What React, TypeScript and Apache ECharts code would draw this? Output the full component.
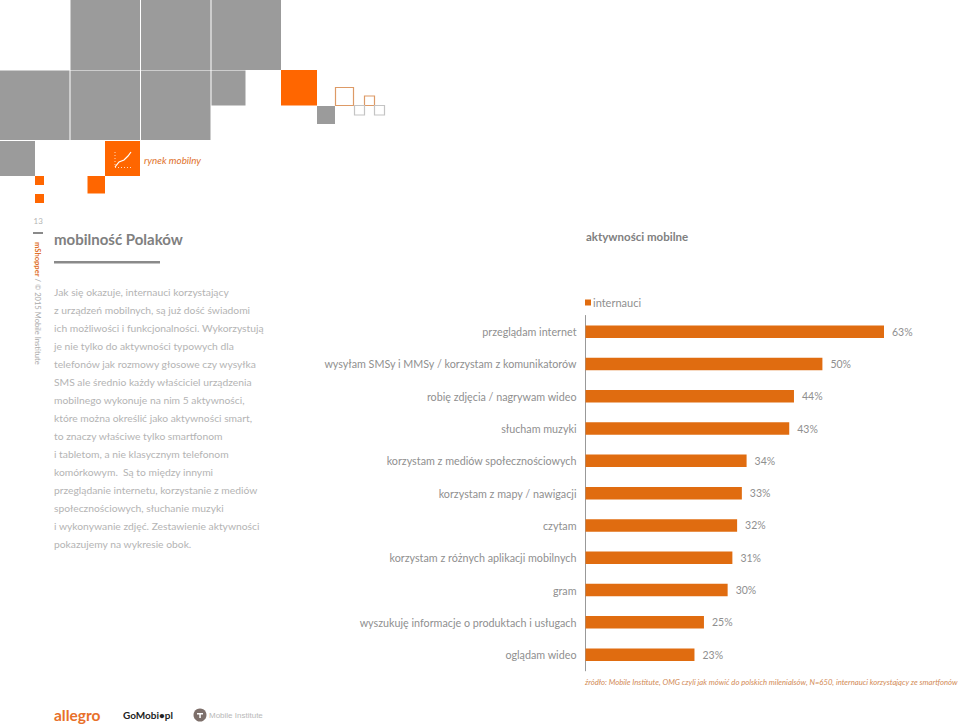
import React, { useEffect, useRef } from "react";
import * as echarts from "echarts";

const categories = [
  "przeglądam internet",
  "wysyłam SMSy i MMSy / korzystam z komunikatorów",
  "robię zdjęcia / nagrywam wideo",
  "słucham muzyki",
  "korzystam z mediów społecznościowych",
  "korzystam z mapy / nawigacji",
  "czytam",
  "korzystam z różnych aplikacji mobilnych",
  "gram",
  "wyszukuję informacje o produktach i usługach",
  "oglądam wideo",
];
const values = [63, 50, 44, 43, 34, 33, 32, 31, 30, 25, 23];
const seriesName = "internauci";
const bodyLines = [
  "Jak się okazuje, internauci korzystający",
  "z urządzeń mobilnych, są już dość świadomi",
  "ich możliwości i funkcjonalności. Wykorzystują",
  "je nie tylko do aktywności typowych dla",
  "telefonów jak rozmowy głosowe czy wysyłka",
  "SMS ale średnio każdy właściciel urządzenia",
  "mobilnego wykonuje na nim 5 aktywności,",
  "które można określić jako aktywności smart,",
  "to znaczy właściwe tylko smartfonom",
  "i tabletom, a nie klasycznym telefonom",
  "komórkowym.  Są to między innymi",
  "przeglądanie internetu, korzystanie z mediów",
  "społecznościowych, słuchanie muzyki",
  "i wykonywanie zdjęć. Zestawienie aktywności",
  "pokazujemy na wykresie obok.",
];
const sourceText =
  "źródło: Mobile Institute, OMG czyli jak mówić do polskich milenialsów, N=650, internauci korzystający ze smartfonów";

const FONT = "Lato";
const GRAY = "#9b9b9b";
const ORANGE = "#ff6600";
const BAR = "#e06c10";
const TEXT = "#8f8f8f";
const LIGHT = "#b4b4b4";

const grayRects = [
  [70.5, 0, 69.5, 70], [141, 0, 69.5, 70], [211.5, 0, 69.5, 70],
  [0, 70.5, 69.5, 69.5], [70.5, 70.5, 69.5, 69.5], [141, 70.5, 69.5, 69.5],
  [211.5, 70.5, 34, 35], [0, 141, 35, 35], [317, 106, 18, 18],
];
const orangeRects = [
  [281, 70, 36, 35.5], [105, 141, 35, 35], [87.5, 176, 17.5, 17.5],
  [35, 176, 9, 9], [35, 194, 9, 9],
];
const outlineRects = [
  [335.5, 87.5, 18, 18, "#dd9a66"], [364.5, 96, 10, 9.5, "#dd9a66"],
  [354.5, 105.5, 10, 9.5, "#c4c4c4"], [374.5, 105.5, 10, 9.5, "#c4c4c4"],
];

const text = (x: number, y: number, t: string, style: any, extra: any = {}) => ({
  type: "text",
  x,
  y,
  silent: true,
  style: { text: t, fontFamily: FONT, verticalAlign: "middle", ...style },
  ...extra,
});

export default function App() {
  const ref = useRef<HTMLDivElement>(null);
  useEffect(() => {
    const chart = echarts.init(ref.current!, undefined, { renderer: "svg" });
    const graphics: any[] = [
      ...grayRects.map(([x, y, width, height]) => ({ type: "rect", shape: { x, y, width, height }, style: { fill: GRAY } })),
      ...orangeRects.map(([x, y, width, height]) => ({ type: "rect", shape: { x, y, width, height }, style: { fill: ORANGE } })),
      ...outlineRects.map(([x, y, width, height, c]: any) => ({
        type: "rect", shape: { x, y, width, height }, style: { fill: "none", stroke: c, lineWidth: 1.2 },
      })),
      { type: "polyline", shape: { points: [[115, 167], [119, 162], [124, 160], [128, 156], [131, 152]] }, style: { fill: "none", stroke: "#fff", lineWidth: 1.2 } },
      { type: "line", shape: { x1: 115, y1: 152, x2: 115, y2: 167 }, style: { stroke: "#ffd9bf", lineWidth: 1, lineDash: [1, 2] } },
      { type: "line", shape: { x1: 115, y1: 167.5, x2: 131, y2: 167.5 }, style: { stroke: "#ffd9bf", lineWidth: 1, lineDash: [1, 2] } },
      text(144, 160, "rynek mobilny", { fontSize: 9.8, fontStyle: "italic", fill: "#e0702a" }),
      text(33.5, 221, "13", { fontSize: 8, fill: "#b4b4b4" }),
      { type: "rect", shape: { x: 33, y: 232, width: 10, height: 2 }, style: { fill: "#8a8a8a" } },
      {
        type: "text", x: 37.5, y: 242, rotation: -Math.PI / 2, silent: true,
        style: {
          text: "{a|mShopper}{b| / © 2015 Mobile Institute}",
          verticalAlign: "middle", align: "left",
          rich: {
            a: { fontFamily: FONT, fontSize: 7.6, fontWeight: "bold", fill: "#e0702a", color: "#e0702a" },
            b: { fontFamily: FONT, fontSize: 7.6, fill: "#a8a8a8", color: "#a8a8a8" },
          },
        },
      },
      text(54, 239, "mobilność Polaków", { fontSize: 15, fontWeight: "bold", fill: "#808080" }),
      { type: "rect", shape: { x: 54, y: 261, width: 106, height: 2.5 }, style: { fill: "#8a8a8a" } },
      ...bodyLines.map((l, i) => text(54, 291.5 + i * 18, l, { fontSize: 10.3, fill: LIGHT })),
      text(586, 236, "aktywności mobilne", { fontSize: 11.5, fontWeight: "bold", fill: "#808080" }),
      text(585, 681.5, sourceText, { fontSize: 7.7, fontStyle: "italic", fill: "#d28a55" }),
      text(54, 715, "allegro", { fontSize: 15.5, fontWeight: "bold", fill: "#e8702a" }),
      text(123, 715, "GoMobi•pl", { fontSize: 10, fontWeight: "bold", fill: "#222222" }),
      { type: "circle", shape: { cx: 200, cy: 715, r: 6.5 }, style: { fill: "#7d6f6a" } },
      { type: "rect", shape: { x: 197, y: 713, width: 6, height: 1.5 }, style: { fill: "#ffffff" } },
      { type: "rect", shape: { x: 199.3, y: 713, width: 1.5, height: 5 }, style: { fill: "#ffffff" } },
      text(209, 715, "Mobile Institute", { fontSize: 8, fontFamily: "Liberation Sans", fill: "#b8b8b8" }),
    ];
    chart.setOption({
      animation: false,
      backgroundColor: "#ffffff",
      textStyle: { fontFamily: FONT },
      legend: {
        left: 580,
        top: 292,
        icon: "rect",
        itemWidth: 6,
        itemHeight: 6,
        itemGap: 0,
        textStyle: { fontFamily: FONT, fontSize: 11, color: TEXT, padding: [0, 0, 0, -3] },
        data: [seriesName],
      },
      grid: { left: 585.5, top: 315.5, width: 298.5, height: 355.3 },
      xAxis: { type: "value", min: 0, max: 63, show: false },
      yAxis: {
        type: "category",
        inverse: true,
        data: categories,
        axisLine: { show: true, lineStyle: { color: "#999999", width: 1 } },
        axisTick: { show: false },
        axisLabel: { fontFamily: FONT, fontSize: 10.75, color: TEXT, margin: 9, interval: 0 },
      },
      series: [
        {
          name: seriesName,
          type: "bar",
          data: values,
          barWidth: 12.5,
          itemStyle: { color: BAR },
          label: {
            show: true,
            position: "right",
            distance: 8,
            formatter: "{c}%",
            fontFamily: FONT,
            fontSize: 10.5,
            color: TEXT,
          },
        },
      ],
      graphic: { elements: graphics },
    });
    return () => chart.dispose();
  }, []);
  return <div ref={ref} style={{ position: "absolute", left: 0, top: 0, width: 960, height: 725 }} />;
}
